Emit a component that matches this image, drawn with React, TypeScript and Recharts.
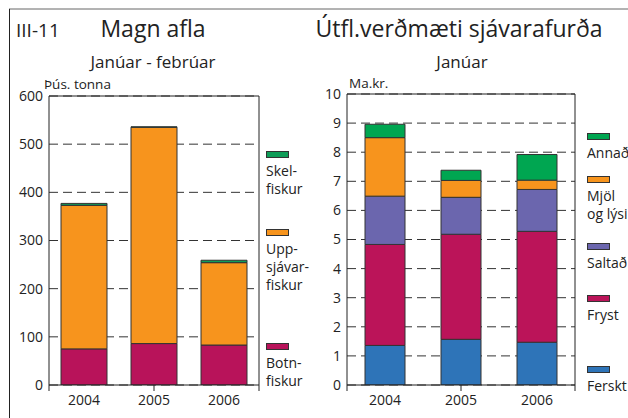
import { BarChart, Bar, XAxis, YAxis, CartesianGrid, ReferenceLine } from "recharts";

const FONT = "'Open Sans', sans-serif";
const INK = "#222";

// Magn afla, janúar - febrúar (þús. tonna)
const years = ["2004", "2005", "2006"];
const botnfiskur = [75, 86, 83];
const uppsjavarfiskur = [298, 449, 171];
const skelfiskur = [4, 1, 5];
const magnTicks = [0, 100, 200, 300, 400, 500, 600];

// Útflutningsverðmæti sjávarafurða, janúar (ma.kr.)
const ferskt = [1.36, 1.57, 1.47];
const fryst = [3.47, 3.61, 3.81];
const saltad = [1.66, 1.27, 1.44];
const mjol = [2.01, 0.58, 0.32];
const annad = [0.46, 0.35, 0.88];
const verdTicks = [0, 1, 2, 3, 4, 5, 6, 7, 8, 9, 10];

interface Series {
    key: string;
    lines: string[];
    color: string;
    values: number[];
    legendTop: number;
}

const magnSeries: Series[] = [
    { key: "botn", lines: ["Botn-", "fiskur"], color: "#b8135a", values: botnfiskur, legendTop: 343 },
    { key: "upp", lines: ["Upp-", "sjávar-", "fiskur"], color: "#f7941d", values: uppsjavarfiskur, legendTop: 229 },
    { key: "skel", lines: ["Skel-", "fiskur"], color: "#0f9d58", values: skelfiskur, legendTop: 151 },
];

const verdSeries: Series[] = [
    { key: "ferskt", lines: ["Ferskt"], color: "#2e74b8", values: ferskt, legendTop: 366 },
    { key: "fryst", lines: ["Fryst"], color: "#bb1459", values: fryst, legendTop: 295 },
    { key: "saltad", lines: ["Saltað"], color: "#6b66ae", values: saltad, legendTop: 243 },
    { key: "mjol", lines: ["Mjöl", "og lýsi"], color: "#f7941d", values: mjol, legendTop: 176 },
    { key: "annad", lines: ["Annað"], color: "#00a651", values: annad, legendTop: 133 },
];

const buildRows = (series: Series[]) =>
    years.map((year, i) => {
        const row: Record<string, string | number> = { year };
        series.forEach((s) => (row[s.key] = s.values[i]));
        return row;
    });

interface ChartProps {
    series: Series[];
    ticks: number[];
    left: number;
    width: number;
    margin: { top: number; right: number; bottom: number; left: number };
    barSize: number;
}

const NoLabel = () => <g />;

const StackChart = ({ series, ticks, left, width, margin, barSize }: ChartProps) => {
    const max = ticks[ticks.length - 1];
    return (
        <div style={{ position: "absolute", left, top: 0 }}>
            <BarChart width={width} height={418} data={buildRows(series)} margin={margin} barSize={barSize}>
                <CartesianGrid xAxisId="cat" vertical={false} strokeDasharray="9 5" stroke="#333" />
                {/* bottom axis line + band boundary ticks */}
                <XAxis
                    type="number"
                    domain={[0, years.length]}
                    ticks={years.map((_, i) => i).concat(years.length)}
                    interval={0}
                    allowDataOverflow
                    tick={NoLabel}
                    tickLine={{ stroke: INK }}
                    tickSize={6}
                    axisLine={{ stroke: INK }}
                    height={6}
                />
                <XAxis
                    xAxisId="cat"
                    dataKey="year"
                    axisLine={false}
                    tickLine={false}
                    tickSize={0}
                    tickMargin={4}
                    height={24}
                    tick={{ fill: INK, fontSize: 14, fontFamily: FONT }}
                />
                <YAxis
                    domain={[0, max]}
                    ticks={ticks}
                    interval={0}
                    allowDataOverflow
                    width={40}
                    axisLine={{ stroke: INK }}
                    tickLine={false}
                    tickSize={0}
                    tickMargin={6}
                    tick={{ fill: INK, fontSize: 14, fontFamily: FONT }}
                />
                <YAxis
                    yAxisId="r"
                    orientation="right"
                    domain={[0, max]}
                    ticks={ticks}
                    tick={NoLabel}
                    tickLine={false}
                    width={1}
                    axisLine={{ stroke: INK }}
                />
                <ReferenceLine xAxisId="cat" y={max} stroke={INK} />
                {series.map((s) => (
                    <Bar
                        key={s.key}
                        xAxisId="cat"
                        dataKey={s.key}
                        stackId="a"
                        fill={s.color}
                        stroke="#333"
                        strokeWidth={1}
                        isAnimationActive={false}
                    />
                ))}
            </BarChart>
        </div>
    );
};

const LegendBlock = ({ series, x }: { series: Series[]; x: number }) => (
    <>
        {series.map((s) => (
            <div key={s.key} style={{ position: "absolute", left: x, top: s.legendTop }}>
                <div style={{ width: 21, height: 5, background: s.color, border: "1px solid #333" }} />
                <div
                    style={{
                        fontFamily: FONT,
                        fontSize: 14,
                        lineHeight: "18px",
                        color: INK,
                        marginTop: 4,
                        whiteSpace: "nowrap",
                    }}
                >
                    {s.lines.map((l) => (
                        <div key={l}>{l}</div>
                    ))}
                </div>
            </div>
        ))}
    </>
);

export default function App() {
    return (
        <div
            style={{
                position: "fixed",
                left: 0,
                top: 0,
                width: 628,
                height: 418,
                background: "#fff",
                overflow: "hidden",
            }}
        >
            <StackChart
                series={magnSeries}
                ticks={magnTicks}
                left={0}
                width={320}
                margin={{ top: 96, right: 60, bottom: 3, left: 9 }}
                barSize={46}
            />
            <StackChart
                series={verdSeries}
                ticks={verdTicks}
                left={300}
                width={328}
                margin={{ top: 94, right: 52, bottom: 3, left: 7 }}
                barSize={40}
            />
            <LegendBlock series={magnSeries} x={266} />
            <LegendBlock series={verdSeries} x={587} />
            <svg
                width={628}
                height={418}
                style={{ position: "absolute", left: 0, top: 0, pointerEvents: "none" }}
                fontFamily={FONT}
                fill={INK}
            >
                <line x1={9} y1={9} x2={628} y2={9} stroke="#666" />
                <line x1={9.5} y1={9} x2={9.5} y2={418} stroke={INK} />
                <text x={16} y={37} fontSize={19}>III-11</text>
                <text x={153} y={37} fontSize={23} textAnchor="middle">Magn afla</text>
                <text x={153} y={68} fontSize={17} textAnchor="middle">Janúar - febrúar</text>
                <text x={44} y={89} fontSize={13.5}>Þús. tonna</text>
                <text x={459} y={37} fontSize={23} textAnchor="middle">Útfl.verðmæti sjávarafurða</text>
                <text x={462} y={68} fontSize={17} textAnchor="middle">Janúar</text>
                <text x={349} y={88} fontSize={13.5}>Ma.kr.</text>
            </svg>
        </div>
    );
}
